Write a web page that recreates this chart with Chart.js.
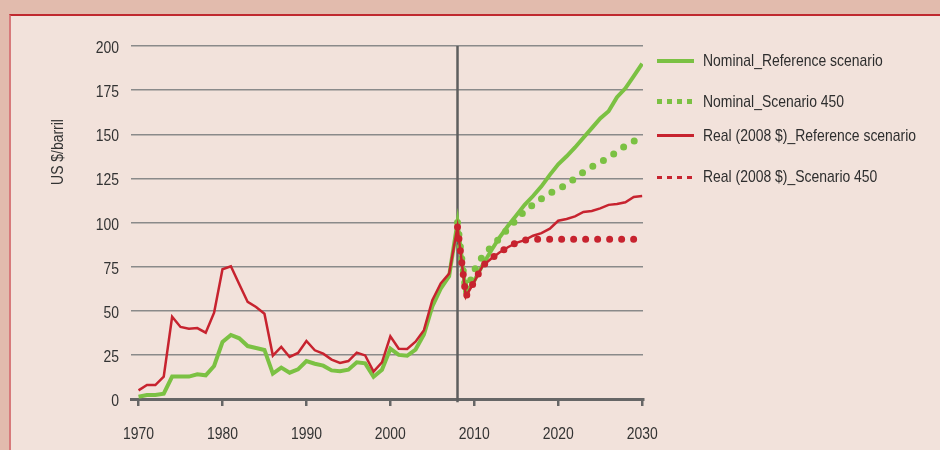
<!DOCTYPE html>
<html>
<head>
<meta charset="utf-8">
<script src="https://cdn.jsdelivr.net/npm/chart.js@4.4.1/dist/chart.umd.min.js"></script>
<style>
    body {
        margin: 0;
        width: 940px;
        height: 450px;
        overflow: hidden;
        position: relative;
        background: #e2bbad;
        font-family: "Liberation Sans", Arial, sans-serif;
    }
    .panel {
        position: absolute;
        left: 9px;
        top: 14px;
        width: 960px;
        height: 460px;
        background: #f2e2db;
        border-top: 2px solid #c0292f;
        border-left: 2px solid #d77a7b;
    }
    #chart {
        position: absolute;
        left: 0;
        top: 0;
    }
    .legend-item {
        position: absolute;
        left: 657px;
        height: 20px;
        width: 280px;
    }
    .legend-item .sample {
        position: absolute;
        left: 0;
        width: 37px;
    }
    .legend-item .text {
        position: absolute;
        left: 46px;
        top: 0;
        line-height: 20px;
        font-size: 17px;
        color: #2e2e2e;
        white-space: nowrap;
        transform: scaleX(0.82);
        transform-origin: left center;
    }
</style>
</head>
<body>
<div class="panel"></div>
<canvas id="chart" width="940" height="450"></canvas>
<div id="legend"></div>
<script>
const GREEN = "#7bc143";
const RED = "#c7232f";
const Y_TITLE = "US $/barril";
const LABELS = ["Nominal_Reference scenario", "Nominal_Scenario 450", "Real (2008 $)_Reference scenario", "Real (2008 $)_Scenario 450"];
const X_TICKS = [1970, 1980, 1990, 2000, 2010, 2020, 2030];
const BASE_YEAR = 2008;

const YEARS = [1970, 1971, 1972, 1973, 1974, 1975, 1976, 1977, 1978, 1979,
    1980, 1981, 1982, 1983, 1984, 1985, 1986, 1987, 1988, 1989,
    1990, 1991, 1992, 1993, 1994, 1995, 1996, 1997, 1998, 1999,
    2000, 2001, 2002, 2003, 2004, 2005, 2006, 2007, 2008, 2009,
    2010, 2011, 2012, 2013, 2014, 2015, 2016, 2017, 2018, 2019,
    2020, 2021, 2022, 2023, 2024, 2025, 2026, 2027, 2028, 2029, 2030];
const YEARS_450 = [2008, 2009, 2010, 2011, 2012, 2013, 2014, 2015, 2016, 2017, 2018, 2019,
    2020, 2021, 2022, 2023, 2024, 2025, 2026, 2027, 2028, 2029, 2030];

const NOMINAL_REF = [1.3, 2.3, 2.3, 3, 12.7, 12.7, 12.7, 14, 13.4, 18.7,
    32.3, 36.3, 34.4, 30, 28.9, 27.8, 14.4, 17.8, 14.9, 16.8,
    21.5, 20, 18.9, 16.2, 15.7, 16.6, 20.8, 20.2, 12.6, 16.6,
    28.5, 25, 24.5, 28, 36.5, 52.5, 62.5, 69.5, 100, 60,
    67, 76, 84, 91.5, 98, 104, 110, 115, 120.5, 127,
    133, 137.5, 142.5, 148, 153.5, 159, 163, 171, 176, 183, 190];
const REAL_REF = [4.9, 7.9, 7.9, 12.7, 46.6, 40.8, 39.8, 40.2, 37.6, 48.9,
    73.5, 75.2, 65, 55, 52.1, 48.3, 24.6, 29.5, 23.8, 26.1,
    32.9, 27.6, 25.7, 22.3, 20.4, 21.5, 26.3, 24.7, 15.5, 20.8,
    35.5, 28.5, 28.3, 32.5, 39, 56, 65.5, 71, 97.5, 58,
    66.5, 75.5, 79.5, 83, 86, 88.5, 90, 92.5, 94, 96.5,
    101, 102, 103.5, 106, 106.5, 108, 110, 110.5, 111.5, 114.5, 115];
const NOMINAL_450 = [100, 60, 73, 81, 86, 91, 96.5, 101.5, 106.5, 110, 113.5, 116.5,
    119, 121.5, 125, 128.5, 131.5, 134, 137, 140, 143.5, 146, 148.5];
const REAL_450 = [97.5, 58, 66.5, 75.5, 79.5, 83, 86, 88.5, 90, 90.5, 90.5, 90.5,
    90.5, 90.5, 90.5, 90.5, 90.5, 90.5, 90.5, 90.5, 90.5, 90.5, 90.5];

// no narrow font installed: squeeze Liberation Sans horizontally instead
const FONT = "17px 'Liberation Sans', Arial, sans-serif";
const NARROW = 0.82;
const TEXT_COLOR = "#333";

function toPoints(years, values) {
    return values.map((v, i) => ({ x: years[i], y: v }));
}

function narrowText(ctx, text, x, y, angle, align) {
    ctx.save();
    ctx.translate(x, y);
    ctx.rotate(angle);
    ctx.scale(NARROW, 1);
    ctx.font = FONT;
    ctx.fillStyle = TEXT_COLOR;
    ctx.textAlign = align;
    ctx.textBaseline = "alphabetic";
    ctx.fillText(text, 0, 0);
    ctx.restore();
}

// tick labels and y title drawn here so they can be condensed
const NARROW_LABELS = {
    id: "narrowLabels",
    afterDraw(chart) {
        const ctx = chart.ctx;
        const X = chart.scales.x;
        const Y = chart.scales.y;
        X.ticks.forEach(t => {
            narrowText(ctx, String(t.value), X.getPixelForValue(t.value), 439, 0, "center");
        });
        Y.ticks.forEach(t => {
            narrowText(ctx, String(t.value), 119, Y.getPixelForValue(t.value) + 7, 0, "right");
        });
        narrowText(ctx, Y_TITLE, 63, 152, -Math.PI / 2, "center");
    }
};

function createChart() {
    const ctx = document.getElementById("chart").getContext("2d");
    return new Chart(ctx, {
        type: "line",
        data: {
            datasets: [
                {
                    label: LABELS[3],
                    data: toPoints(YEARS_450, REAL_450),
                    borderColor: RED,
                    borderWidth: 7,
                    borderDash: [0, 12],
                    borderCapStyle: "round",
                    order: 0
                },
                {
                    label: LABELS[2],
                    data: toPoints(YEARS, REAL_REF),
                    borderColor: RED,
                    borderWidth: 2.5,
                    order: 1
                },
                {
                    label: LABELS[1],
                    data: toPoints(YEARS_450, NOMINAL_450),
                    borderColor: GREEN,
                    borderWidth: 7,
                    borderDash: [0, 12.15],
                    borderCapStyle: "round",
                    order: 2
                },
                {
                    label: LABELS[0],
                    data: toPoints(YEARS, NOMINAL_REF),
                    borderColor: GREEN,
                    borderWidth: 4,
                    order: 3
                },
                {
                    label: String(BASE_YEAR),
                    data: [{ x: BASE_YEAR, y: -1.8 }, { x: BASE_YEAR, y: 200 }],
                    borderColor: "#5e5e5e",
                    borderWidth: 2.5,
                    clip: false,
                    order: 4
                }
            ]
        },
        options: {
            responsive: false,
            animation: false,
            events: [],
            layout: { padding: { top: 46, right: 297, left: 0, bottom: 0 } },
            elements: { point: { radius: 0 }, line: { tension: 0 } },
            plugins: { legend: { display: false }, tooltip: { enabled: false } },
            scales: {
                x: {
                    type: "linear",
                    min: 1969.1,
                    max: 2030.1,
                    afterBuildTicks(scale) {
                        scale.ticks = X_TICKS.map(v => ({ value: v }));
                    },
                    afterFit(scale) {
                        scale.height = 51;
                    },
                    grid: { drawOnChartArea: false, drawTicks: true, tickLength: 7, color: "#666", lineWidth: 2.5 },
                    border: { display: true, color: "#666", width: 3 },
                    ticks: { display: false }
                },
                y: {
                    min: 0,
                    max: 200,
                    afterFit(scale) {
                        scale.width = 131;
                    },
                    grid: { color: "#8a8a8a", lineWidth: 1.5, drawTicks: false },
                    border: { display: false },
                    ticks: { display: false, stepSize: 25 }
                }
            }
        },
        plugins: [NARROW_LABELS]
    });
}

function createLegend() {
    const centers = [61, 101.7, 135.7, 177];
    const samples = [
        { h: 4, bg: GREEN },
        { h: 4.5, bg: "repeating-linear-gradient(to right, " + GREEN + " 0 5px, transparent 5px 10px)" },
        { h: 3, bg: RED },
        { h: 3, bg: "repeating-linear-gradient(to right, " + RED + " 0 5px, transparent 5px 10px)" }
    ];
    const LEGEND = document.getElementById("legend");
    LABELS.forEach((label, i) => {
        const item = document.createElement("div");
        item.classList.add("legend-item");
        item.style.top = (centers[i] - 10) + "px";

        const sample = document.createElement("div");
        sample.classList.add("sample");
        sample.style.height = samples[i].h + "px";
        sample.style.top = (10 - samples[i].h / 2) + "px";
        sample.style.background = samples[i].bg;

        const text = document.createElement("div");
        text.classList.add("text");
        text.textContent = label;

        item.appendChild(sample);
        item.appendChild(text);
        LEGEND.appendChild(item);
    });
}

createChart();
createLegend();
</script>
</body>
</html>
